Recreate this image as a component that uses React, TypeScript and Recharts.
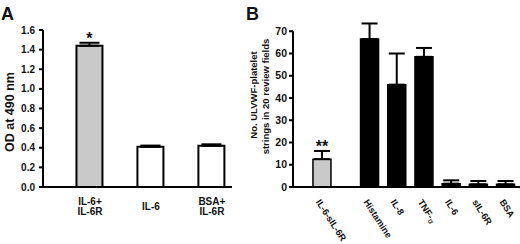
import { BarChart, Bar, XAxis, YAxis, ErrorBar, LabelList, ReferenceLine, Cell } from 'recharts'

// Panel A
const treatmentsA = ['IL-6+\nIL-6R', 'IL-6', 'BSA+\nIL-6R']
const odA = [1.44, 0.41, 0.42]
const odErrA = [0.03, 0.012, 0.015]
const notesA = ['*', '', '']
const yTicksA = [0, 0.2, 0.4, 0.6, 0.8, 1.0, 1.2, 1.4, 1.6]

// Panel B
const treatmentsB = ['IL-6-sIL-6R', 'Histamine', 'IL-8', 'TNF-α', 'IL-6', 'sIL-6R', 'BSA']
const stringsB = [12.5, 66.5, 46, 58.5, 1.5, 1.2, 1.2]
const stringsErrB = [3.7, 7, 14, 4, 1.5, 1.5, 1.5]
const notesB = ['**', '', '', '', '', '', '']
const yTicksB = [0, 10, 20, 30, 40, 50, 60, 70]

const FONT = '"Liberation Sans", Arial, sans-serif'
const GRAY = '#c9c9c9'

// first bar of B stands apart from the rest
const GROUP_GAP = 0.75

const dataA = treatmentsA.map((t, i) => ({
  x: i,
  od: odA[i],
  err: [0, odErrA[i]],
  note: notesA[i],
}))

const dataB = treatmentsB.map((t, i) => ({
  x: i === 0 ? 0 : i + GROUP_GAP,
  n: stringsB[i],
  err: [0, stringsErrB[i]],
  note: notesB[i],
}))

const TickA = ({ x, y, payload }: any) => {
  const lines = treatmentsA[payload.value].split('\n')
  const y0 = y + 15 - (lines.length - 1) * 4.75
  return (
    <text x={x} y={y0} textAnchor="middle" fontSize={10} fontWeight="bold" fontFamily={FONT} fill="#111">
      {lines.map((l, i) => (
        <tspan key={i} x={x} dy={i === 0 ? 0 : 9.5}>{l}</tspan>
      ))}
    </text>
  )
}

const TickB = ({ x, y, payload }: any) => {
  const idx = dataB.findIndex((d) => d.x === payload.value)
  const label = treatmentsB[idx] ?? ''
  const ax = x - 6
  const ay = y + 7
  const greek = label.endsWith('α')
  return (
    <text x={ax} y={ay} transform={`rotate(57 ${ax} ${ay})`} textAnchor="start" fontSize={9.2} fontWeight="bold" fontFamily={FONT} fill="#111">
      {greek ? (
        <>
          {label.slice(0, -1)}
          <tspan fontSize={8} fontWeight="normal" dy={2}>α</tspan>
        </>
      ) : label}
    </text>
  )
}

const noteLabel = (lift: number) => (props: any) => {
  const { x, y, width, value } = props
  if (!value) return null
  return (
    <text x={x + width / 2} y={y - lift} textAnchor="middle" fontSize={16} fontWeight="bold" fontFamily={FONT} fill="#111">
      {value}
    </text>
  )
}

export default function App() {
  return (
    <div style={{ position: 'absolute', left: 0, top: 0, width: 520, height: 244, background: '#fff', fontFamily: FONT }}>
      <div style={{ position: 'absolute', left: 0, top: 0 }}>
        <BarChart width={240} height={244} data={dataA} margin={{ top: 30, right: 8, bottom: 27, left: 0 }}>
          <XAxis
            dataKey="x"
            type="number"
            domain={[-0.77, 2.33]}
            ticks={[0, 1, 2]}
            interval={0}
            tickLine={false}
            axisLine={{ stroke: '#000', strokeWidth: 2 }}
            tick={<TickA />}
            height={30}
          />
          <YAxis
            domain={[0, 1.6]}
            ticks={yTicksA}
            width={43}
            tickSize={4}
            tickMargin={4}
            tickFormatter={(v: number) => v.toFixed(1)}
            axisLine={{ stroke: '#000', strokeWidth: 2 }}
            tickLine={{ stroke: '#000', strokeWidth: 2 }}
            tick={{ fontSize: 10, fontWeight: 'bold', fill: '#111', fontFamily: FONT }}
          />
          <Bar dataKey="od" barSize={26} stroke="#000" strokeWidth={2} isAnimationActive={false}>
            {dataA.map((d, i) => (
              <Cell key={i} fill={i === 0 ? GRAY : '#fff'} />
            ))}
            <ErrorBar dataKey="err" width={10} stroke="#000" strokeWidth={2} direction="y" />
            <LabelList dataKey="note" content={noteLabel(1.5)} />
          </Bar>
        </BarChart>
      </div>
      <div style={{ position: 'absolute', left: 245, top: 0 }}>
        <BarChart width={275} height={244} data={dataB} margin={{ top: 9, right: 0, bottom: 27, left: 0 }}>
          <XAxis
            dataKey="x"
            type="number"
            domain={[-1.05, 7.296]}
            ticks={dataB.map((d) => d.x)}
            interval={0}
            tickLine={false}
            axisLine={{ stroke: '#000', strokeWidth: 2 }}
            tick={<TickB />}
            height={30}
          />
          <YAxis
            domain={[0, 80]}
            ticks={yTicksB}
            width={48}
            tickSize={4}
            tickMargin={2}
            axisLine={false}
            tickLine={{ stroke: '#000', strokeWidth: 2 }}
            tick={{ fontSize: 10.5, fontWeight: 'bold', fill: '#111', fontFamily: FONT }}
          />
          <ReferenceLine
            segment={[{ x: -1.05, y: 0 }, { x: -1.05, y: 70 }]}
            stroke="#000"
            strokeWidth={2}
            ifOverflow="visible"
          />
          <Bar dataKey="n" barSize={18} stroke="#000" strokeWidth={1.5} isAnimationActive={false}>
            {dataB.map((d, i) => (
              <Cell key={i} fill={i === 0 ? GRAY : '#000'} />
            ))}
            <ErrorBar dataKey="err" width={8} stroke="#000" strokeWidth={2} direction="y" />
            <LabelList dataKey="note" content={noteLabel(7.5)} />
          </Bar>
        </BarChart>
      </div>
      <svg width={520} height={244} style={{ position: 'absolute', left: 0, top: 0, pointerEvents: 'none' }}>
        <g fontFamily={FONT} fontWeight="bold" fill="#111">
          <text x={1} y={20} fontSize={18}>A</text>
          <text x={246} y={20} fontSize={18}>B</text>
          <text x={14} y={112} fontSize={12.5} textAnchor="middle" transform="rotate(-90 14 112)">OD at 490 nm</text>
          <text x={257} y={95} fontSize={9.5} textAnchor="middle" transform="rotate(-90 257 95)">No. ULVWF-platelet</text>
          <text x={269} y={96.5} fontSize={9.5} textAnchor="middle" transform="rotate(-90 269 96.5)">strings in 20 review fields</text>
        </g>
      </svg>
    </div>
  )
}
